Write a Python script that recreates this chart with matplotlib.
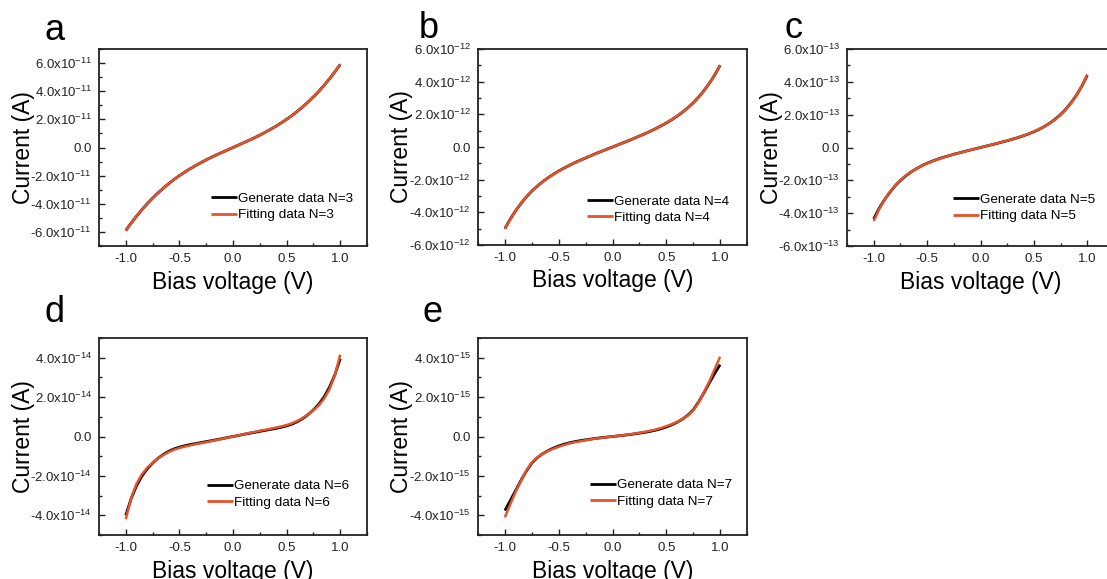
import matplotlib
matplotlib.use('Agg')
import matplotlib.pyplot as plt
from matplotlib.ticker import FuncFormatter, MultipleLocator, FixedLocator

plt.rcParams.update({
    'font.family': 'Liberation Sans',
    'mathtext.fontset': 'custom',
    'mathtext.rm': 'Liberation Sans',
    'mathtext.it': 'Liberation Sans:italic',
    'mathtext.bf': 'Liberation Sans:bold',
    'axes.unicode_minus': False,
})

# ---------------- data ----------------
bias = [-1.00, -0.95, -0.90, -0.85, -0.80, -0.75, -0.70, -0.65, -0.60, -0.55, -0.50,
        -0.45, -0.40, -0.35, -0.30, -0.25, -0.20, -0.15, -0.10, -0.05, 0.00,
        0.05, 0.10, 0.15, 0.20, 0.25, 0.30, 0.35, 0.40, 0.45, 0.50,
        0.55, 0.60, 0.65, 0.70, 0.75, 0.80, 0.85, 0.90, 0.95, 1.00]

panel_letters = ['a', 'b', 'c', 'd', 'e']
chain_n = [3, 4, 5, 6, 7]
exponents = [-11, -12, -13, -14, -15]          # current unit of each panel
y_limits = [7.0, 6.0, 6.0, 5.0, 5.0]            # in units of 10^exp
y_ticks = [[-6, -4, -2, 0, 2, 4, 6], [-6, -4, -2, 0, 2, 4, 6], [-6, -4, -2, 0, 2, 4, 6],
           [-4, -2, 0, 2, 4], [-4, -2, 0, 2, 4]]
x_ticks = [-1.0, -0.5, 0.0, 0.5, 1.0]

a_gen = [-5.90, -5.37, -4.88, -4.42, -3.99, -3.60, -3.23, -2.89, -2.57, -2.27, -2.00,
         -1.75, -1.51, -1.29, -1.08, -0.88, -0.69, -0.51, -0.34, -0.17, 0.00,
         0.17, 0.34, 0.51, 0.69, 0.88, 1.08, 1.29, 1.51, 1.75, 2.00,
         2.27, 2.57, 2.89, 3.23, 3.60, 3.99, 4.42, 4.88, 5.37, 5.90]
a_fit = [-5.92, -5.38, -4.88, -4.42, -3.99, -3.60, -3.23, -2.89, -2.57, -2.27, -2.00,
         -1.75, -1.51, -1.29, -1.08, -0.88, -0.69, -0.51, -0.34, -0.17, 0.00,
         0.17, 0.34, 0.51, 0.69, 0.88, 1.08, 1.29, 1.51, 1.75, 2.00,
         2.27, 2.57, 2.89, 3.23, 3.60, 3.99, 4.42, 4.88, 5.37, 5.92]

b_gen = [-5.00, -4.41, -3.90, -3.45, -3.05, -2.70, -2.40, -2.13, -1.89, -1.67, -1.47,
         -1.29, -1.12, -0.96, -0.81, -0.67, -0.53, -0.39, -0.26, -0.13, 0.00,
         0.13, 0.26, 0.39, 0.53, 0.67, 0.81, 0.96, 1.12, 1.29, 1.47,
         1.67, 1.89, 2.13, 2.40, 2.70, 3.05, 3.45, 3.90, 4.41, 5.00]
b_fit = [-5.02, -4.42, -3.90, -3.44, -3.04, -2.69, -2.40, -2.14, -1.90, -1.68, -1.48,
         -1.29, -1.12, -0.97, -0.82, -0.67, -0.53, -0.40, -0.26, -0.13, 0.00,
         0.13, 0.26, 0.40, 0.53, 0.67, 0.82, 0.97, 1.12, 1.29, 1.48,
         1.68, 1.90, 2.14, 2.40, 2.69, 3.04, 3.44, 3.90, 4.42, 5.02]

c_gen = [-4.35, -3.72, -3.19, -2.74, -2.34, -2.01, -1.73, -1.49, -1.29, -1.11, -0.96,
         -0.83, -0.71, -0.60, -0.51, -0.41, -0.33, -0.24, -0.16, -0.08, 0.00,
         0.08, 0.16, 0.24, 0.33, 0.41, 0.51, 0.60, 0.71, 0.83, 0.96,
         1.11, 1.29, 1.49, 1.73, 2.01, 2.34, 2.74, 3.20, 3.75, 4.40]
c_fit = [-4.48, -3.78, -3.19, -2.72, -2.32, -1.99, -1.71, -1.48, -1.29, -1.12, -0.97,
         -0.84, -0.72, -0.61, -0.51, -0.42, -0.33, -0.25, -0.16, -0.08, 0.00,
         0.08, 0.16, 0.25, 0.33, 0.42, 0.51, 0.61, 0.72, 0.84, 0.97,
         1.12, 1.29, 1.48, 1.71, 1.99, 2.32, 2.72, 3.19, 3.76, 4.45]

d_gen = [-4.00, -3.15, -2.50, -2.01, -1.64, -1.35, -1.11, -0.91, -0.75, -0.63, -0.54,
         -0.47, -0.41, -0.36, -0.31, -0.26, -0.21, -0.16, -0.11, -0.05, 0.00,
         0.05, 0.11, 0.16, 0.21, 0.26, 0.31, 0.36, 0.41, 0.47, 0.54,
         0.63, 0.75, 0.91, 1.11, 1.35, 1.64, 2.01, 2.50, 3.13, 3.95]
d_fit = [-4.20, -3.12, -2.40, -1.92, -1.58, -1.33, -1.12, -0.94, -0.79, -0.67, -0.58,
         -0.51, -0.45, -0.39, -0.34, -0.29, -0.23, -0.18, -0.12, -0.06, 0.00,
         0.06, 0.12, 0.18, 0.23, 0.29, 0.34, 0.39, 0.45, 0.51, 0.58,
         0.67, 0.79, 0.94, 1.12, 1.33, 1.58, 1.92, 2.40, 3.10, 4.15]

e_gen = [-3.76, -3.25, -2.74, -2.22, -1.75, -1.35, -1.08, -0.88, -0.72, -0.59, -0.48,
         -0.39, -0.32, -0.26, -0.21, -0.17, -0.13, -0.09, -0.06, -0.03, 0.00,
         0.03, 0.06, 0.09, 0.13, 0.17, 0.21, 0.26, 0.32, 0.39, 0.48,
         0.59, 0.72, 0.88, 1.08, 1.35, 1.75, 2.22, 2.72, 3.20, 3.65]
e_fit = [-4.10, -3.44, -2.80, -2.25, -1.72, -1.32, -1.06, -0.89, -0.74, -0.62, -0.52,
         -0.43, -0.35, -0.29, -0.24, -0.19, -0.14, -0.10, -0.07, -0.03, 0.00,
         0.03, 0.07, 0.10, 0.14, 0.19, 0.24, 0.29, 0.35, 0.43, 0.52,
         0.62, 0.74, 0.89, 1.06, 1.32, 1.72, 2.25, 2.80, 3.42, 4.05]

generated = [a_gen, b_gen, c_gen, d_gen, e_gen]
fitted = [a_fit, b_fit, c_fit, d_fit, e_fit]

# ---------------- layout ----------------
W, H = 1107, 579
fig = plt.figure(figsize=(W / 100, H / 100), dpi=100)

boxes = [(99, 49, 367, 246), (478, 49, 747, 245), (847, 49, 1114, 246),
         (99, 338, 367, 535), (478, 338, 747, 535)]
letter_pos = [(45, 40), (419, 38), (784, 38), (45, 322), (422, 322)]
legend_anchor = [(0.418, 0.198), (0.405, 0.181), (0.397, 0.194), (0.403, 0.206), (0.416, 0.211)]

ORANGE = '#E6522A'


def make_formatter(ex):
    def fmt(v, pos):
        m = v / 10 ** ex
        if abs(m) < 1e-9:
            return '0.0'
        return '%.1fx10$^{%d}$' % (m, ex)
    return FuncFormatter(fmt)


for i in range(5):
    l, t, r, b = boxes[i]
    ax = fig.add_axes([l / W, 1 - b / H, (r - l) / W, (b - t) / H])
    ex = exponents[i]
    scale = 10.0 ** ex
    g = [v * scale for v in generated[i]]
    f = [v * scale for v in fitted[i]]
    ax.plot(bias, g, color='black', lw=2.0, label=f'Generate data N={chain_n[i]}', solid_capstyle='butt')
    ax.plot(bias, f, color=ORANGE, lw=1.8, label=f'Fitting data N={chain_n[i]}', solid_capstyle='butt')

    ax.set_xlim(-1.25, 1.25)
    ax.set_ylim(-y_limits[i] * scale, y_limits[i] * scale)
    ax.xaxis.set_major_locator(FixedLocator(x_ticks))
    ax.xaxis.set_minor_locator(MultipleLocator(0.25))
    ax.yaxis.set_major_locator(FixedLocator([v * scale for v in y_ticks[i]]))
    ax.yaxis.set_minor_locator(MultipleLocator(scale))
    ax.yaxis.set_major_formatter(make_formatter(ex))
    ax.xaxis.set_major_formatter(FuncFormatter(lambda v, p: '%.1f' % v))

    ax.tick_params(which='both', direction='in', top=False, right=False, width=1.0,
                   labelsize=9.5, pad=5, colors='#222222')
    ax.tick_params(which='major', length=4)
    ax.tick_params(which='minor', length=2.5)
    for sp in ax.spines.values():
        sp.set_linewidth(1.3)
        sp.set_color('#222222')

    ax.set_xlabel('Bias voltage (V)', fontsize=16.5)
    ax.set_ylabel('Current (A)', fontsize=16.5)
    ax.xaxis.set_label_coords(0.5, -0.125)
    ax.yaxis.set_label_coords(-0.240, 0.5)

    leg = ax.legend(loc='center left', bbox_to_anchor=legend_anchor[i], frameon=False,
                    fontsize=9.7, handlelength=1.9, handletextpad=0.1, labelspacing=0.3,
                    borderpad=0, borderaxespad=0)
    for line in leg.get_lines():
        line.set_linewidth(2.0)

    lx, ly = letter_pos[i]
    fig.text(lx / W, 1 - ly / H, panel_letters[i], fontsize=26, ha='left', va='baseline')

fig.savefig('out.png', dpi=100)
